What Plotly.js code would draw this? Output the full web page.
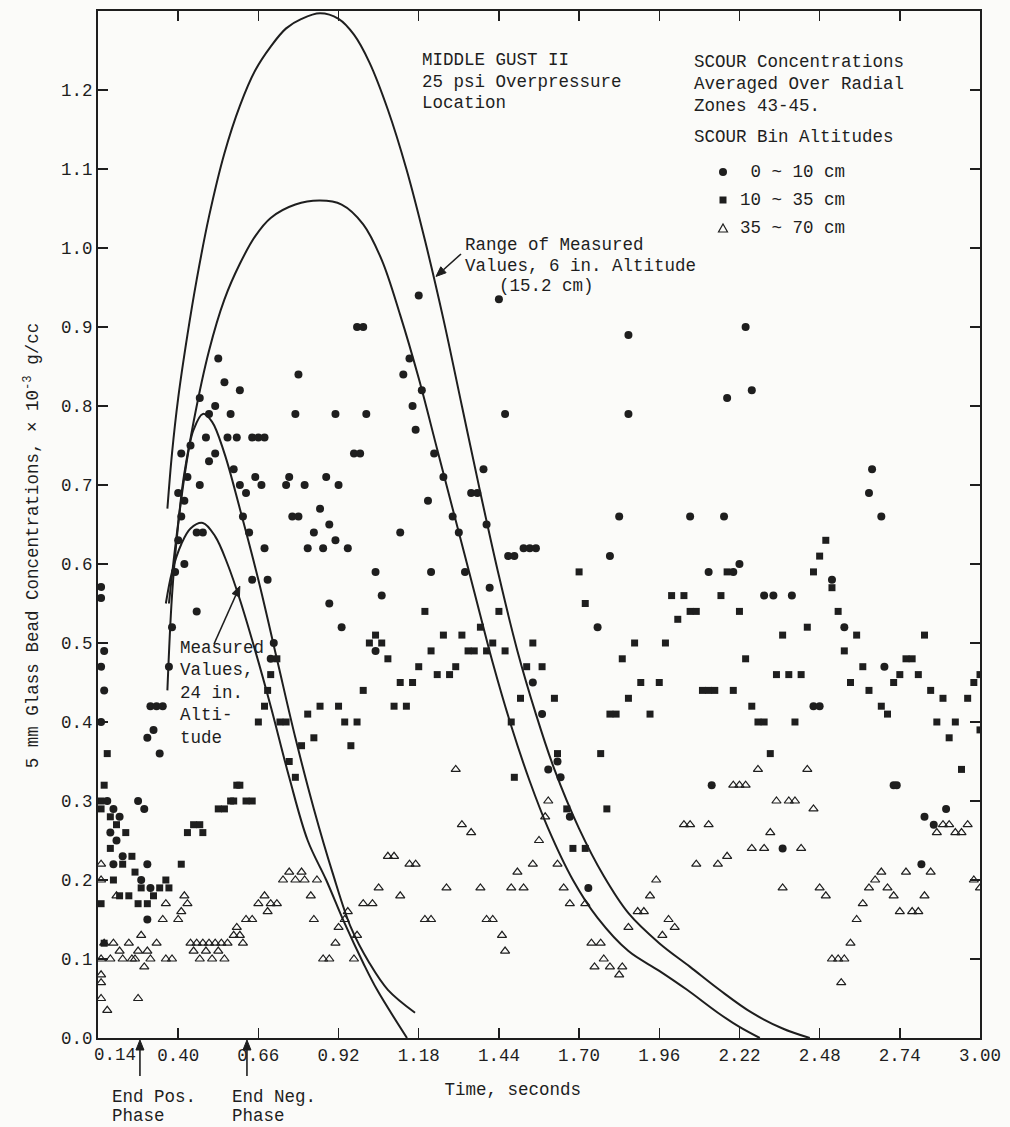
<!DOCTYPE html>
<html><head><meta charset="utf-8">
<script src="https://cdn.plot.ly/plotly-3.0.1.min.js"></script>
<style>html,body{margin:0;padding:0;background:#fbfbf9;}#chart{width:1010px;height:1127px;}</style>
</head><body><div id="chart"></div>
<script>
// ---- data ----
const timeTicks = [0.14,0.40,0.66,0.92,1.18,1.44,1.70,1.96,2.22,2.48,2.74,3.00];
const tickLabels = ["0.14","0.40","0.66","0.92","1.18","1.44","1.70","1.96","2.22","2.48","2.74","3.00"];
const concTicks = [0,0.1,0.2,0.3,0.4,0.5,0.6,0.7,0.8,0.9,1.0,1.1,1.2];
const concLabels = ["0.0","0.1","0.2","0.3","0.4","0.5","0.6","0.7","0.8","0.9","1.0","1.1","1.2"];
const legendLabels = ["&nbsp;0 ~ 10 cm","10 ~ 35 cm","35 ~ 70 cm"];
const endPosTime = 0.276, endNegTime = 0.623;

// 0 ~ 10 cm bin (filled circles)
const circT = [0.15,0.15,0.16,0.15,0.16,0.15,0.17,0.19,0.18,0.20,0.21,0.22,0.19,
 0.27,0.29,0.28,0.30,0.31,0.30,0.31,0.33,0.35,0.30,0.32,0.34,
 0.37,0.38,0.39,0.40,0.41,0.40,0.42,0.43,0.41,0.44,0.42,
 0.46,0.46,0.48,0.47,0.50,0.49,0.50,0.47,0.52,0.53,0.52,
 0.55,0.57,0.56,0.59,0.60,0.58,0.60,0.62,0.61,0.63,
 0.64,0.66,0.68,0.65,0.67,0.64,0.68,0.69,0.71,0.70,
 0.75,0.77,0.79,0.78,0.79,0.76,0.81,0.82,0.84,
 0.86,0.88,0.87,0.89,0.89,0.91,0.91,0.92,
 0.93,0.95,0.97,0.99,0.98,1.00,1.01,1.04,1.06,1.04,
 1.12,1.13,1.15,1.16,1.17,1.18,1.19,1.21,1.23,1.26,1.22,
 1.29,1.31,1.33,1.35,1.37,1.39,1.40,1.41,1.44,1.46,
 1.47,1.49,1.52,1.54,1.56,1.55,1.58,1.60,
 1.63,1.64,1.67,1.73,1.76,1.80,1.83,1.86,1.86,
 2.06,2.12,2.13,2.17,2.18,2.20,2.22,2.24,2.26,2.30,2.33,2.36,2.39,
 2.46,2.48,2.52,2.56,2.64,2.65,2.68,2.69,2.72,2.73,2.81,2.82,2.85,2.89];
const circC = [0.571,0.557,0.49,0.47,0.44,0.40,0.30,0.29,0.26,0.25,0.28,0.23,0.22,
 0.30,0.29,0.20,0.22,0.19,0.15,0.42,0.42,0.42,0.38,0.39,0.36,
 0.47,0.52,0.59,0.63,0.66,0.69,0.68,0.71,0.74,0.75,0.60,
 0.54,0.64,0.64,0.70,0.73,0.76,0.79,0.81,0.80,0.86,0.74,
 0.83,0.79,0.76,0.76,0.82,0.72,0.70,0.69,0.66,0.64,
 0.76,0.76,0.76,0.71,0.70,0.58,0.62,0.58,0.50,0.48,
 0.70,0.66,0.66,0.79,0.84,0.71,0.70,0.62,0.64,
 0.67,0.71,0.62,0.65,0.55,0.63,0.79,0.70,
 0.52,0.62,0.74,0.74,0.90,0.90,0.79,0.59,0.56,0.49,
 0.64,0.84,0.86,0.80,0.77,0.94,0.82,0.68,0.74,0.71,0.59,
 0.66,0.64,0.59,0.69,0.69,0.72,0.65,0.57,0.935,0.79,
 0.61,0.61,0.62,0.62,0.62,0.45,0.41,0.34,
 0.35,0.33,0.28,0.19,0.52,0.61,0.66,0.89,0.79,
 0.66,0.59,0.32,0.66,0.81,0.59,0.60,0.90,0.82,0.56,0.56,0.24,0.56,
 0.42,0.42,0.58,0.52,0.69,0.72,0.66,0.47,0.32,0.32,0.22,0.28,0.27,0.29];

// 10 ~ 35 cm bin (filled squares)
const sqT = [0.15,0.15,0.16,0.15,0.17,0.16,0.18,0.18,0.19,0.20,0.21,0.22,0.23,0.24,0.25,0.26,0.27,0.28,
 0.30,0.32,0.34,0.36,0.37,0.41,0.43,0.45,0.47,0.48,0.53,0.55,0.57,0.59,0.60,0.58,
 0.62,0.64,0.66,0.68,0.69,0.70,0.72,0.73,0.75,0.76,0.78,0.80,0.82,0.84,0.86,
 0.92,0.94,0.96,0.98,1.00,1.02,1.04,1.06,1.08,1.10,1.12,1.14,1.16,1.18,1.20,1.22,1.24,1.26,1.28,1.30,
 1.32,1.34,1.36,1.38,1.40,1.42,1.44,1.46,1.48,1.49,1.51,1.53,1.55,1.58,1.62,1.63,1.66,1.68,1.72,
 1.70,1.72,1.77,1.79,1.80,1.82,1.84,1.86,1.88,1.90,1.93,1.96,1.98,2.00,2.02,2.04,2.06,2.08,2.10,2.12,2.14,
 2.16,2.18,2.20,2.22,2.24,2.26,2.28,2.30,2.32,2.34,2.36,2.38,2.40,2.42,2.44,2.46,2.48,2.50,2.52,2.54,2.56,2.58,
 2.60,2.62,2.64,2.68,2.70,2.72,2.74,2.76,2.78,2.80,2.82,2.84,2.86,2.88,2.90,2.92,2.94,2.96,2.98,3.00,3.00];
const sqC = [0.30,0.29,0.12,0.17,0.36,0.32,0.28,0.24,0.20,0.27,0.18,0.22,0.26,0.18,0.23,0.21,0.17,0.19,
 0.17,0.18,0.19,0.20,0.19,0.22,0.26,0.27,0.27,0.26,0.29,0.29,0.30,0.32,0.32,0.30,
 0.30,0.30,0.40,0.42,0.44,0.46,0.48,0.40,0.40,0.35,0.33,0.37,0.41,0.38,0.42,
 0.42,0.40,0.37,0.40,0.44,0.50,0.51,0.50,0.48,0.42,0.45,0.42,0.45,0.47,0.54,0.49,0.46,0.51,0.46,0.47,
 0.51,0.49,0.49,0.52,0.49,0.50,0.54,0.49,0.40,0.33,0.43,0.47,0.50,0.47,0.43,0.36,0.29,0.24,0.24,
 0.59,0.55,0.36,0.29,0.41,0.41,0.48,0.43,0.50,0.45,0.41,0.45,0.50,0.56,0.53,0.56,0.54,0.54,0.44,0.44,0.44,
 0.56,0.59,0.44,0.54,0.48,0.42,0.40,0.40,0.36,0.46,0.51,0.46,0.40,0.46,0.52,0.59,0.61,0.63,0.57,0.54,0.49,0.45,
 0.51,0.47,0.44,0.42,0.41,0.45,0.46,0.48,0.48,0.46,0.51,0.44,0.40,0.43,0.38,0.40,0.34,0.43,0.45,0.46,0.39];

// 35 ~ 70 cm bin (open triangles)
const triT = [0.15,0.15,0.16,0.15,0.15,0.15,0.15,0.17,0.18,0.19,0.20,0.21,0.22,0.24,0.25,0.26,0.27,0.28,0.27,0.29,0.30,0.31,0.33,0.35,0.36,0.36,0.38,
 0.40,0.41,0.42,0.43,0.44,0.45,0.46,0.47,0.48,0.49,0.50,0.51,0.52,0.53,0.54,0.55,0.56,0.58,0.59,0.60,0.61,0.62,
 0.64,0.66,0.68,0.69,0.70,0.72,0.74,0.76,0.78,0.80,0.81,0.83,0.84,0.85,0.87,0.89,0.91,0.92,0.94,0.95,0.97,0.98,
 1.00,1.03,1.05,1.08,1.10,1.12,1.15,1.17,1.20,1.22,1.27,1.30,1.32,1.35,1.38,1.40,1.42,1.45,1.46,1.48,1.50,1.52,1.55,1.57,1.59,1.60,1.63,1.65,1.67,
 1.72,1.74,1.75,1.77,1.78,1.80,1.83,1.84,1.86,1.89,1.91,1.93,1.95,1.97,1.99,2.01,2.04,2.06,2.08,2.12,2.15,2.18,
 2.20,2.22,2.24,2.26,2.28,2.30,2.32,2.34,2.36,2.38,2.40,2.42,2.44,2.46,2.48,2.50,2.52,2.54,2.55,2.56,2.58,2.60,2.62,2.64,2.66,2.68,2.70,2.72,2.74,2.76,2.78,2.80,2.82,2.84,2.86,2.88,2.90,2.92,2.94,2.96,2.98,3.00];
const triC = [0.22,0.20,0.12,0.10,0.08,0.07,0.05,0.035,0.10,0.12,0.18,0.11,0.10,0.12,0.10,0.10,0.11,0.13,0.05,0.09,0.11,0.10,0.12,0.15,0.17,0.10,0.10,
 0.15,0.16,0.18,0.17,0.12,0.11,0.12,0.10,0.12,0.11,0.12,0.10,0.12,0.11,0.12,0.10,0.12,0.13,0.14,0.13,0.12,0.15,
 0.15,0.17,0.18,0.16,0.17,0.17,0.20,0.21,0.20,0.21,0.20,0.18,0.15,0.20,0.10,0.10,0.12,0.14,0.15,0.16,0.10,0.13,
 0.17,0.17,0.19,0.23,0.23,0.18,0.22,0.22,0.15,0.15,0.19,0.34,0.27,0.26,0.19,0.15,0.15,0.13,0.11,0.19,0.21,0.19,0.22,0.25,0.28,0.30,0.22,0.19,0.17,
 0.17,0.12,0.09,0.12,0.10,0.09,0.08,0.09,0.14,0.16,0.16,0.18,0.20,0.13,0.15,0.14,0.27,0.27,0.22,0.27,0.22,0.23,
 0.32,0.32,0.32,0.24,0.34,0.24,0.26,0.30,0.19,0.30,0.30,0.24,0.34,0.29,0.19,0.18,0.10,0.10,0.07,0.10,0.12,0.15,0.17,0.19,0.20,0.21,0.19,0.18,0.16,0.21,0.16,0.16,0.18,0.21,0.26,0.27,0.27,0.26,0.26,0.27,0.20,0.19];

// curves
const range6UpperT = [0.365,0.38,0.40,0.43,0.46,0.50,0.55,0.60,0.65,0.70,0.75,0.80,0.86,0.92,0.97,1.02,1.08,1.14,1.20,1.26,1.32,1.38,1.44,1.50,1.56,1.62,1.70,1.78,1.86,1.96,2.06,2.155,2.26,2.36,2.448];
const range6UpperC = [0.67,0.74,0.81,0.89,0.96,1.04,1.12,1.18,1.225,1.255,1.278,1.29,1.297,1.29,1.27,1.235,1.175,1.10,1.01,0.91,0.80,0.69,0.585,0.49,0.41,0.34,0.265,0.205,0.158,0.12,0.09,0.061,0.032,0.012,0.0];
const range6LowerT = [0.37,0.39,0.42,0.45,0.50,0.55,0.60,0.65,0.70,0.78,0.86,0.93,1.00,1.06,1.12,1.18,1.24,1.30,1.36,1.42,1.48,1.54,1.60,1.68,1.76,1.86,1.96,2.05,2.15,2.22,2.286];
const range6LowerC = [0.55,0.62,0.71,0.78,0.87,0.935,0.98,1.015,1.038,1.055,1.06,1.055,1.03,0.985,0.915,0.835,0.745,0.655,0.565,0.475,0.395,0.325,0.265,0.20,0.152,0.11,0.085,0.061,0.032,0.014,0.0];
const meas24UpperT = [0.365,0.38,0.40,0.42,0.45,0.48,0.51,0.55,0.60,0.66,0.72,0.78,0.84,0.90,0.96,1.02,1.08,1.168];
const meas24UpperC = [0.44,0.56,0.65,0.715,0.77,0.79,0.78,0.74,0.67,0.58,0.48,0.38,0.29,0.21,0.14,0.095,0.061,0.032];
const meas24LowerT = [0.36,0.38,0.41,0.44,0.48,0.52,0.56,0.60,0.65,0.70,0.76,0.82,0.88,0.94,1.00,1.045,1.142];
const meas24LowerC = [0.55,0.59,0.625,0.645,0.652,0.635,0.60,0.555,0.49,0.42,0.33,0.25,0.20,0.145,0.095,0.061,0.0];

// ---- drawing ----
const ink = '#1e1e1e';
const FONT = 'Liberation Mono, Courier New, monospace';
const FS = 17.5;
// layout helpers: pixel -> paper, and data -> pixel (plot area 98..980 x 11..1038)
const X = px => (px - 98) / 882;
const Y = py => (1038 - py) / 1027;
const tPx = t => 98 + (t - 0.14) / (3.00 - 0.14) * 882;
const cPx = c => 1038 - c / 1.30 * 1027;
const pad = n => '&nbsp;'.repeat(n);

const lineTrace = (t, c) => ({x: t, y: c, mode: 'lines', type: 'scatter', showlegend: false, hoverinfo: 'skip',
  line: {color: ink, width: 2, shape: 'spline', smoothing: 1.0}});

const data = [
  lineTrace(range6UpperT, range6UpperC),
  lineTrace(range6LowerT, range6LowerC),
  lineTrace(meas24UpperT, meas24UpperC),
  lineTrace(meas24LowerT, meas24LowerC),
  {x: circT, y: circC, type: 'scatter', mode: 'markers', name: legendLabels[0], showlegend: false,
   marker: {symbol: 'circle', size: 8, color: ink}},
  {x: sqT, y: sqC, type: 'scatter', mode: 'markers', name: legendLabels[1], showlegend: false,
   marker: {symbol: 'square', size: 7, color: ink}},
  {x: triT, y: triC, type: 'scatter', mode: 'markers', name: legendLabels[2], showlegend: false,
   marker: {symbol: 'triangle-up-open', size: 8, color: ink, line: {width: 1.2, color: ink}}}
];

const ann = (o) => Object.assign({showarrow: false, font: {family: FONT, size: FS, color: ink}, align: 'left', xanchor: 'left', yanchor: 'top'}, o);
const txt = (px, py, text) => ann({xref: 'paper', yref: 'paper', x: X(px), y: Y(py), text: text, yanchor: 'middle'});

// arrow = line + filled head, as shapes in paper space
function arrowShapes(tx, ty, hx, hy) {
  const dx = hx - tx, dy = hy - ty, L = Math.hypot(dx, dy);
  const ux = dx / L, uy = dy / L, hl = 10, hw = 4;
  const bx = hx - ux * hl, by = hy - uy * hl;
  const p1x = bx + uy * hw, p1y = by - ux * hw, p2x = bx - uy * hw, p2y = by + ux * hw;
  return [
    {type: 'line', xref: 'paper', yref: 'paper', x0: X(tx), y0: Y(ty), x1: X(bx), y1: Y(by), line: {color: ink, width: 1.6}},
    {type: 'path', xref: 'paper', yref: 'paper', fillcolor: ink, line: {color: ink, width: 1},
     path: `M ${X(hx)} ${Y(hy)} L ${X(p1x)} ${Y(p1y)} L ${X(p2x)} ${Y(p2y)} Z`}
  ];
}

// legend symbols drawn as shapes
const lx = 723;
const shapes = [
  {type: 'circle', xref: 'paper', yref: 'paper', x0: X(lx - 4), x1: X(lx + 4), y0: Y(172 + 4), y1: Y(172 - 4), fillcolor: ink, line: {width: 0}},
  {type: 'rect', xref: 'paper', yref: 'paper', x0: X(lx - 3.5), x1: X(lx + 3.5), y0: Y(200 + 3.5), y1: Y(200 - 3.5), fillcolor: ink, line: {width: 0}},
  {type: 'path', xref: 'paper', yref: 'paper',
   path: `M ${X(lx - 4.5)} ${Y(232)} L ${X(lx + 4.5)} ${Y(232)} L ${X(lx)} ${Y(224)} Z`, line: {color: ink, width: 1.2}},
  ...arrowShapes(461, 254, tPx(1.236), cPx(0.964)),
  ...arrowShapes(214, 644, tPx(0.60), cPx(0.572)),
  ...arrowShapes(tPx(endPosTime), 1076, tPx(endPosTime), 1040),
  ...arrowShapes(tPx(endNegTime), 1076, tPx(endNegTime), 1040)
];

const layout = {
  width: 1010, height: 1127,
  paper_bgcolor: '#fbfbf9', plot_bgcolor: '#fbfbf9',
  margin: {l: 98, r: 30, t: 11, b: 89},
  font: {family: FONT, size: FS, color: ink},
  showlegend: false,
  xaxis: {range: [0.14, 3.00], tickvals: timeTicks.slice(1), ticktext: tickLabels.slice(1), ticks: 'inside', ticklen: 10,
    tickwidth: 1.5, tickcolor: ink, showline: true, linewidth: 2, linecolor: ink, mirror: 'ticks',
    showgrid: false, zeroline: false, tickfont: {family: FONT, size: FS, color: ink},
    title: {text: 'Time, seconds' + pad(5), standoff: 18, font: {family: FONT, size: FS, color: ink}}},
  yaxis: {range: [0, 1.30], tickvals: concTicks, ticktext: concLabels, ticks: 'inside', ticklen: 10,
    tickwidth: 1.5, tickcolor: ink, showline: true, linewidth: 2, linecolor: ink, mirror: 'ticks',
    showgrid: false, zeroline: false, tickfont: {family: FONT, size: FS, color: ink},
    title: {text: '5 mm Glass Bead Concentrations, × 10<sup>-3</sup> g/cc' + pad(4), standoff: 18,
      font: {family: FONT, size: FS, color: ink}}},
  shapes: shapes,
  annotations: [
    ann({xref: 'paper', yref: 'paper', x: X(115), y: Y(1055), xanchor: 'center', yanchor: 'middle', text: tickLabels[0]}),
    txt(420, 60, 'MIDDLE GUST II'), txt(420, 82, '25 psi Overpressure'), txt(420, 103, 'Location'),
    txt(692, 62, 'SCOUR Concentrations'), txt(692, 84, 'Averaged Over Radial'), txt(692, 106, 'Zones 43-45.'),
    txt(692, 137, 'SCOUR Bin Altitudes'),
    txt(738, 172, legendLabels[0]), txt(738, 200, legendLabels[1]), txt(738, 228, legendLabels[2]),
    txt(463, 245, 'Range of Measured'), txt(463, 266, 'Values, 6 in. Altitude'), txt(497, 286, '(15.2 cm)'),
    txt(178, 648, 'Measured'), txt(178, 670, 'Values,'), txt(178, 693, '24 in.'), txt(178, 715, 'Alti-'), txt(178, 738, 'tude'),
    txt(110, 1097, 'End Pos.'), txt(110, 1116, 'Phase'),
    txt(230, 1097, 'End Neg.'), txt(230, 1116, 'Phase')
  ]
};

Plotly.newPlot('chart', data, layout, {staticPlot: true});
</script>
</body></html>
